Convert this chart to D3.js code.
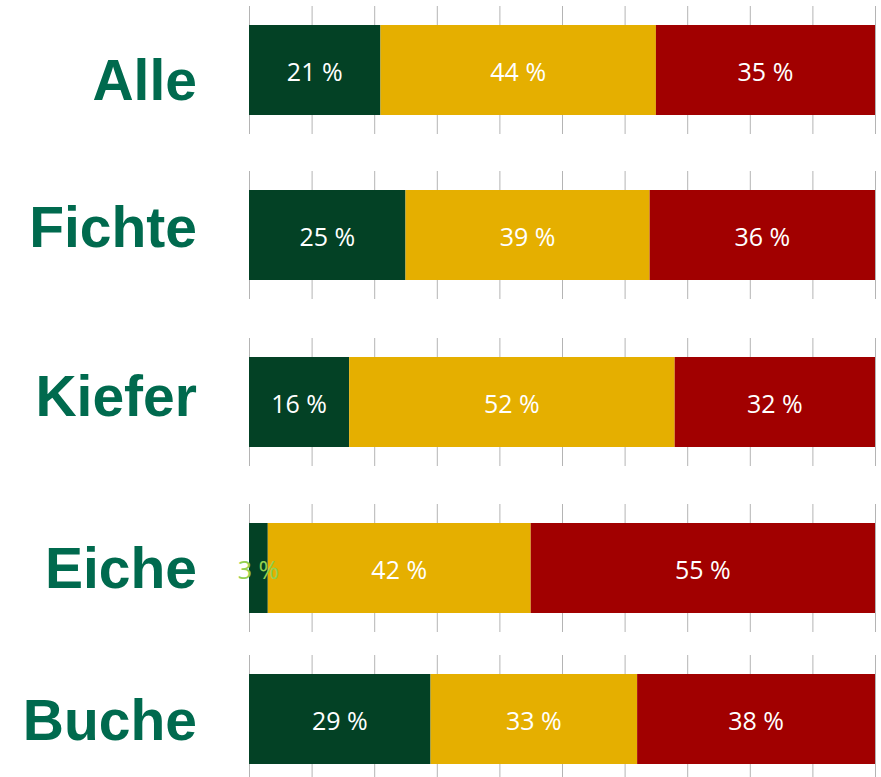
<!DOCTYPE html>
<html>
<head>
<meta charset="utf-8">
<script src="https://cdn.jsdelivr.net/npm/d3@7"></script>
<style>
  html, body { margin: 0; padding: 0; background: #fff; }
  svg { display: block; }
</style>
</head>
<body>
<svg id="chart"></svg>
<script>
const categories = ["Alle", "Fichte", "Kiefer", "Eiche", "Buche"];
const seriesKeys = ["gruen", "gelb", "rot"];
const gruen = [21, 25, 16, 3, 29];
const gelb = [44, 39, 52, 42, 33];
const rot = [35, 36, 32, 55, 38];
const gridTicks = [0, 10, 20, 30, 40, 50, 60, 70, 80, 90, 100];

const width = 881;
const height = 777;

// each row is its own little panel, spacing is not even in the original
const barTop = [25, 190, 357, 523, 674];
const barHeight = 90;
const labelShift = [30, 12, 14, 20, 21];

const colors = { gruen: "#034125", gelb: "#E5AF00", rot: "#A10000" };

const svg = d3.select("#chart").attr("width", width).attr("height", height);

const x = d3.scaleLinear().domain([0, 100]).range([249, 875]);

const rows = categories.map((c, i) => ({ name: c, gruen: gruen[i], gelb: gelb[i], rot: rot[i], i }));
const stacked = d3.stack().keys(seriesKeys)(rows);

const panels = svg.selectAll("g.panel")
  .data(rows)
  .join("g")
  .attr("class", "panel")
  .attr("transform", d => `translate(0, ${barTop[d.i]})`);

// gridlines sticking out above and below the bar
panels.selectAll("line.grid")
  .data(gridTicks)
  .join("line")
  .attr("class", "grid")
  .attr("x1", d => x(d) + 0.5)
  .attr("x2", d => x(d) + 0.5)
  .attr("y1", -19)
  .attr("y2", barHeight + 19)
  .attr("stroke", "#b4b4b4")
  .attr("stroke-width", 1);

panels.append("text")
  .attr("x", 197)
  .attr("y", d => barHeight / 2 + labelShift[d.i])
  .attr("text-anchor", "end")
  .attr("font-family", "'Liberation Sans', Arial, sans-serif")
  .attr("font-weight", "bold")
  .attr("font-size", 57)
  .attr("fill", "#006A4E")
  .text(d => d.name);

// segments first, so the small "3 %" can spill over the neighbour
for (const layer of stacked) {
  panels.append("rect")
    .attr("x", d => x(layer[d.i][0]))
    .attr("width", d => x(layer[d.i][1]) - x(layer[d.i][0]))
    .attr("y", 0)
    .attr("height", barHeight)
    .attr("fill", colors[layer.key]);
}

for (const layer of stacked) {
  const key = layer.key;
  panels.append("text")
    .attr("x", d => (x(layer[d.i][0]) + x(layer[d.i][1])) / 2)
    .attr("y", barHeight / 2 + 1)
    .attr("text-anchor", "middle")
    .attr("dominant-baseline", "central")
    .attr("font-family", "'Open Sans', sans-serif")
    .attr("font-size", 25)
    .attr("fill", d => (d[key] < 5 ? "#92D050" : "#ffffff"))
    .text(d => `${d[key]} %`);
}
</script>
</body>
</html>
